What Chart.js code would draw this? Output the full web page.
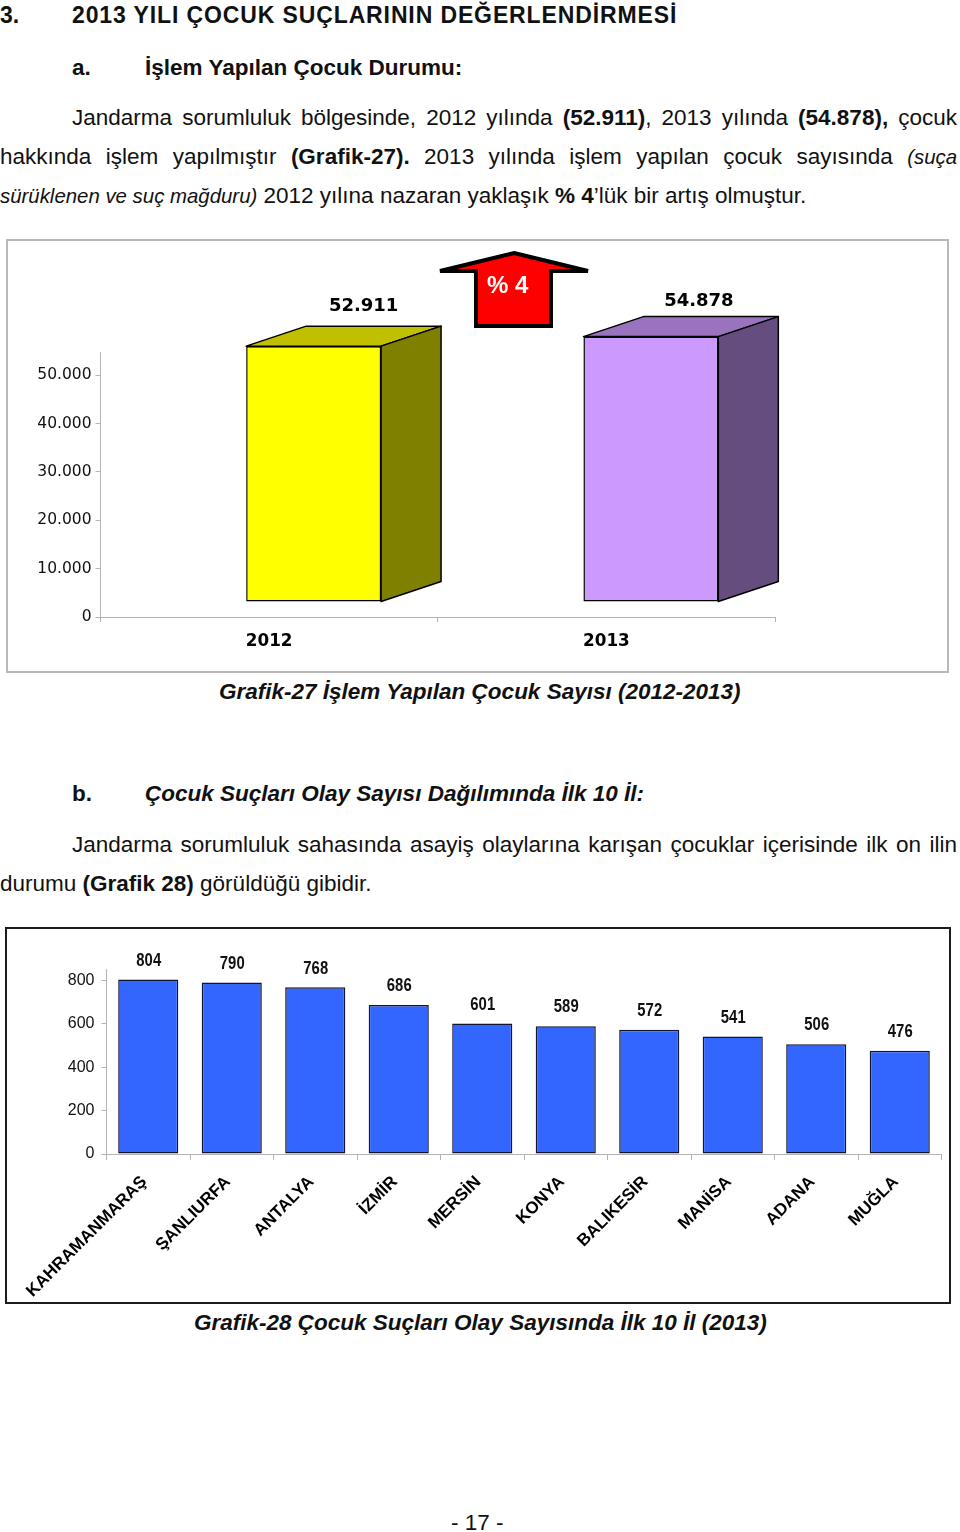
<!DOCTYPE html>
<html lang="tr"><head><meta charset="utf-8">
<script src="https://cdn.jsdelivr.net/npm/chart.js@4/dist/chart.umd.min.js"></script>
<style>
html,body{margin:0;padding:0;background:#fff;}
body{width:960px;height:1532px;position:relative;overflow:hidden;font-family:"Liberation Sans",Arial,sans-serif;color:#111;}
.t{position:absolute;white-space:nowrap;font-size:22.5px;line-height:26px;}
.j{white-space:normal;text-align:justify;text-align-last:justify;}
.box{position:absolute;box-sizing:border-box;background:#fff;}
canvas{position:absolute;left:0;top:0;}
svg{position:absolute;}
.i{font-style:italic;font-size:20.4px;}
</style></head><body>
<div class="t" style="left:0;top:2px;font-weight:bold;font-size:23px">3.</div>
<div class="t" style="left:72px;top:2px;font-weight:bold;font-size:23px;letter-spacing:.88px">2013 YILI ÇOCUK SUÇLARININ DEĞERLENDİRMESİ</div>
<div class="t" style="left:72px;top:55px;font-weight:bold">a.</div>
<div class="t" style="left:145px;top:55px;font-weight:bold">İşlem Yapılan Çocuk Durumu:</div>
<div class="t j" style="left:72px;top:105px;width:885px">Jandarma sorumluluk bölgesinde, 2012 yılında <b>(52.911)</b>, 2013 yılında <b>(54.878),</b> çocuk</div>
<div class="t j" style="left:0;top:144px;width:957px">hakkında işlem yapılmıştır <b>(Grafik-27).</b> 2013 yılında işlem yapılan çocuk sayısında <span class="i">(suça</span></div>
<div class="t" style="left:0;top:183px"><span class="i">sürüklenen ve suç mağduru)</span> 2012 yılına nazaran yaklaşık <b>% 4</b>’lük bir artış olmuştur.</div>

<div class="box" style="left:6px;top:239px;width:943px;height:434px;border:2px solid #b9b9b9">
<canvas id="c1"></canvas></div>
<svg style="left:432px;top:245px" width="164" height="88" viewBox="432 245 164 88">
<polygon points="514,253 588,271 551,271 551,326 476,326 476,271 440,271" fill="#ff0000" stroke="#000" stroke-width="4" stroke-linejoin="miter" stroke-miterlimit="2"/>
<text x="487" y="293" font-family="Liberation Sans" font-weight="bold" font-size="24" fill="#fff">% 4</text></svg>
<div class="t" style="left:219px;top:679px;font-weight:bold;font-style:italic">Grafik-27 İşlem Yapılan Çocuk Sayısı (2012-2013)</div>

<div class="t" style="left:72px;top:781px;font-weight:bold">b.</div>
<div class="t" style="left:145px;top:781px;font-weight:bold;font-style:italic">Çocuk Suçları Olay Sayısı Dağılımında İlk 10 İl:</div>
<div class="t j" style="left:72px;top:832px;width:885px">Jandarma sorumluluk sahasında asayiş olaylarına karışan çocuklar içerisinde ilk on ilin</div>
<div class="t" style="left:0;top:871px">durumu <b>(Grafik 28)</b> görüldüğü gibidir.</div>

<div class="box" style="left:5px;top:927px;width:946px;height:377px;border:2px solid #1c1c1c">
<canvas id="c2"></canvas></div>
<div class="t" style="left:194px;top:1310px;font-weight:bold;font-style:italic">Grafik-28 Çocuk Suçları Olay Sayısında İlk 10 İl (2013)</div>
<div class="t" style="left:451px;top:1510px">- 17 -</div>

<script>
const years = ['2012', '2013'];
const yearValues = [52911, 54878];
const yearFronts = ['#ffff00', '#cc99ff'];
const yearTops = ['#c0c000', '#9a73bf'];
const yearSides = ['#808000', '#664d80'];
const yearTicks = [0, 10000, 20000, 30000, 40000, 50000];

const provinces = ['KAHRAMANMARAŞ', 'ŞANLIURFA', 'ANTALYA', 'İZMİR', 'MERSİN', 'KONYA', 'BALIKESİR', 'MANİSA', 'ADANA', 'MUĞLA'];
const provinceValues = [804, 790, 768, 686, 601, 589, 572, 541, 506, 476];
const provinceTicks = [0, 200, 400, 600, 800];

const AXIS = '#b4b4b4';
const dots = v => String(v).replace(/\B(?=(\d{3})+$)/g, '.');
const wrap = (id, w, h) => { const c = document.getElementById(id); c.width = w; c.height = h; c.style.width = w + 'px'; c.style.height = h + 'px'; return c; };

const shift = { x: 44.5, y: -15 }, depth = { x: 60, y: -20 };
const labelLift = [20, 15];
const labelNudge = [0, -2];
const extrude = {
  id: 'extrude',
  beforeDatasetDraw(chart) { chart.ctx.save(); chart.ctx.translate(shift.x, shift.y); },
  afterDatasetDraw(chart, args) {
    const ctx = chart.ctx;
    args.meta.data.forEach((b, i) => {
      const l = b.x - b.width / 2, r = b.x + b.width / 2, t = b.y, bt = b.base;
      ctx.lineWidth = 1.5; ctx.strokeStyle = '#000'; ctx.lineJoin = 'round';
      ctx.fillStyle = yearTops[i];
      ctx.beginPath(); ctx.moveTo(l, t); ctx.lineTo(l + depth.x, t + depth.y); ctx.lineTo(r + depth.x, t + depth.y); ctx.lineTo(r, t); ctx.closePath(); ctx.fill(); ctx.stroke();
      ctx.fillStyle = yearSides[i];
      ctx.beginPath(); ctx.moveTo(r, t); ctx.lineTo(r + depth.x, t + depth.y); ctx.lineTo(r + depth.x, bt + depth.y); ctx.lineTo(r, bt); ctx.closePath(); ctx.fill(); ctx.stroke();
    });
    ctx.restore();
    ctx.save();
    ctx.font = 'bold 18px "DejaVu Sans"'; ctx.fillStyle = '#000'; ctx.textAlign = 'center'; ctx.textBaseline = 'middle';
    args.meta.data.forEach((b, i) => {
      ctx.fillText(dots(yearValues[i]), b.x + shift.x + 50 + labelNudge[i], b.y + shift.y + depth.y - labelLift[i]);
    });
    ctx.restore();
  }
};

new Chart(wrap('c1', 939, 430), {
  type: 'bar',
  data: { labels: years, datasets: [{ data: yearValues, backgroundColor: yearFronts, borderColor: '#000', borderWidth: 1.5, borderSkipped: false, barPercentage: 0.4, categoryPercentage: 1, clip: false }] },
  plugins: [extrude],
  options: {
    responsive: false, animation: false, devicePixelRatio: 1,
    layout: { padding: { top: 111, right: 172, left: 0, bottom: 0 } },
    plugins: { legend: { display: false }, tooltip: { enabled: false } },
    scales: {
      x: { afterFit(s) { s.height = 54; },
        grid: { drawOnChartArea: false, color: AXIS, tickLength: 5 }, border: { color: AXIS },
        ticks: { color: '#000', font: { family: 'DejaVu Sans', weight: 'bold', size: 16.8 }, padding: 10, maxRotation: 0 } },
      y: { min: 0, max: 54800, afterFit(s) { s.width = 92.5; },
        afterBuildTicks(s) { s.ticks = yearTicks.map(value => ({ value })); },
        grid: { drawOnChartArea: false, color: AXIS, tickLength: 5 }, border: { color: AXIS },
        ticks: { color: '#111', font: { family: 'DejaVu Sans', size: 15.5 }, padding: 4, callback: v => dots(v) } }
    }
  }
});

const valueLabels = {
  id: 'valueLabels',
  afterDatasetDraw(chart, args) {
    const ctx = chart.ctx;
    ctx.font = 'bold 17.5px "Liberation Sans"'; ctx.fillStyle = '#111'; ctx.textAlign = 'center'; ctx.textBaseline = 'middle';
    args.meta.data.forEach((b, i) => {
      ctx.save(); ctx.translate(b.x + 0.5, b.y - 18.5); ctx.scale(0.85, 1);
      ctx.fillText(provinceValues[i], 0, 0); ctx.restore();
    });
  }
};

new Chart(wrap('c2', 942, 373), {
  type: 'bar',
  data: { labels: provinces, datasets: [{ data: provinceValues, backgroundColor: '#3366ff', borderColor: '#10162e', borderWidth: 1.5, borderSkipped: false, barPercentage: 0.72, categoryPercentage: 1, clip: false }] },
  plugins: [valueLabels],
  options: {
    responsive: false, animation: false, devicePixelRatio: 1,
    layout: { padding: { top: 40.5, right: 7.5, left: 0, bottom: 0 } },
    plugins: { legend: { display: false }, tooltip: { enabled: false } },
    scales: {
      x: { afterFit(s) { s.height = 148; },
        grid: { drawOnChartArea: false, color: AXIS, tickLength: 6 }, border: { color: AXIS },
        ticks: { color: '#000', font: { family: 'Liberation Sans', weight: 'bold', size: 17 }, padding: 12, labelOffset: -4, minRotation: 45, maxRotation: 45, autoSkip: false } },
      y: { min: 0, max: 850, afterFit(s) { s.width = 99.5; },
        afterBuildTicks(s) { s.ticks = provinceTicks.map(value => ({ value })); },
        grid: { drawOnChartArea: false, color: AXIS, tickLength: 5 }, border: { color: AXIS },
        ticks: { color: '#111', font: { family: 'Liberation Sans', size: 16 }, padding: 7 } }
    }
  }
});
</script>
</body></html>
